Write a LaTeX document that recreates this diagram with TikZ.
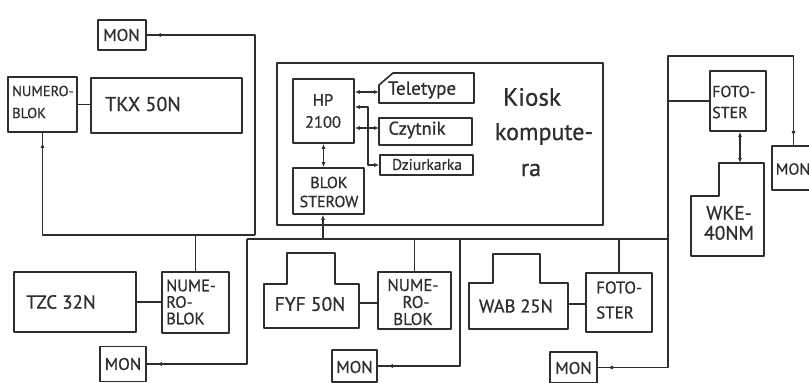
\documentclass[tikz,border=0pt]{standalone}
\usepackage{fontspec}
\setmainfont{PT Sans}[FakeBold=0.7]
\usetikzlibrary{arrows.meta,decorations.markings}
\newcommand{\fsz}[2]{\fontsize{#1}{#2}\selectfont}
\begin{document}
\begin{tikzpicture}[x=1pt,y=-1pt,
  ln/.style={line width=1.6pt, draw=black!82, line join=round},
  box/.style={ln, rectangle, inner sep=0pt},
  txt/.style={inner sep=0pt, text=black!82, align=center},
  dbl/.style={ln,{Latex[length=5pt,width=4pt]}-{Latex[length=5pt,width=4pt]}},
  upar/.style={ln,-{Latex[length=5pt,width=4pt]}},
  mk/.style={postaction={decorate,decoration={markings,mark=at position #1 with {\arrowreversed{Latex[length=5pt,width=4pt]}}}}},
]
\fill[white] (0,0) rectangle (809,383);
\useasboundingbox (0,0) rectangle (809,383);
\clip (0,0) rectangle (809,383);

% ---- boxes ----
\node[box, minimum width=48, minimum height=30] (mon1) at (122,35) {};
\node[txt, font=\fsz{17}{16}] (mon1t) at (121.5,35) {MON};
\node[box, minimum width=69, minimum height=55] (nb1) at (42.5,104.5) {};
\node[txt, align=left, anchor=west, font=\fsz{14.5}{22}] (nb1t) at (12,102) {NUMERO-\\BLOK};
\node[box, minimum width=151, minimum height=55] (tkx) at (166.5,105.5) {};
\node[txt, font=\fsz{20}{20}] (tkxt) at (143,104) {TKX 50N};

\node[box, minimum width=122, minimum height=60] (tzc) at (75,302) {};
\node[txt, font=\fsz{19}{20}] (tzct) at (61,302) {TZC 32N};
\node[box, minimum width=67, minimum height=61] (nb2) at (195.5,302.5) {};
\node[txt, align=left, anchor=west, font=\fsz{16.5}{16.5}] (nb2t) at (166,302) {NUME-\\RO-\\BLOK};
\node[box, minimum width=46, minimum height=35] (mon2) at (123,364) {};
\node[txt, font=\fsz{17}{16}] (mon2t) at (123,364) {MON};

\draw[ln] (264,328) -- (264,284) -- (287,284) -- (287,253) -- (335,253) -- (335,284) -- (359,284) -- (359,328) -- cycle;
\node[txt, font=\fsz{19.5}{20}] (fyf) at (310,304) {FYF 50N};
\coordinate (fyfR) at (359,303);
\node[box, minimum width=73, minimum height=57] (nb3) at (414.5,300.5) {};
\node[txt, font=\fsz{17}{17}] (nb3t) at (413,302) {NUME-\\\hspace*{6pt}RO-\\BLOK};
\node[box, minimum width=45, minimum height=32] (mon3) at (354.5,366) {};
\node[txt, font=\fsz{17}{16}] (mon3t) at (354.5,367) {MON};

\draw[ln] (469,329) -- (469,283) -- (493,283) -- (493,254) -- (540,254) -- (540,283) -- (568,283) -- (568,329) -- cycle;
\node[txt, font=\fsz{18.5}{20}] (wab) at (516,306) {WAB 25N};
\coordinate (wabR) at (568,304);
\node[box, minimum width=66, minimum height=59] (fs2) at (619,302.5) {};
\node[txt, align=left, anchor=west, font=\fsz{17}{25}] (fs2t) at (596,300) {FOTO-\\STER};
\node[box, minimum width=47, minimum height=31] (mon4) at (573.5,367.5) {};
\node[txt, font=\fsz{17}{16}] (mon4t) at (573.5,368) {MON};

% ---- kiosk ----
\node[box, minimum width=326, minimum height=162] (kiosk) at (440,144) {};
\node[box, minimum width=61, minimum height=64] (hp) at (323.5,111) {};
\node[txt, font=\fsz{16.5}{22}] (hpt) at (323,111) {HP\\2100};
\draw[ln] (379,103) -- (379,85) -- (393,73) -- (474,73) -- (474,103) -- cycle;
\node[txt, font=\fsz{19}{16}] (tele) at (422,90) {Teletype};
\coordinate (teleL) at (379,92);
\node[box, minimum width=93, minimum height=27] (czy) at (425.5,131.5) {};
\node[txt, font=\fsz{18.5}{16}] (czyt) at (417,130) {Czytnik};
\node[box, minimum width=93, minimum height=20] (dzi) at (426.5,165) {};
\node[txt, font=\fsz{15.5}{16}] (dzit) at (427,164.5) {Dziurkarka};
\node[box, minimum width=71, minimum height=46] (blok) at (328.5,191) {};
\node[txt, font=\fsz{16}{19}] (blokt) at (329,192) {BLOK\\STEROW};
\node[txt, font=\fsz{25}{22}] (k1) at (532,97) {Kiosk};
\node[txt, font=\fsz{24}{22}] (k2) at (544,134) {kompute-};
\node[txt, font=\fsz{24}{22}] (k3) at (531,170) {ra};

% ---- right group ----
\node[box, minimum width=56, minimum height=60] (fs1) at (738,101) {};
\node[txt, align=left, anchor=west, font=\fsz{16}{21}] (fs1t) at (712,102) {FOTO-\\STER};
\draw[ln] (719,163) -- (764,163) -- (764,256) -- (691,256) -- (691,196) -- (719,196) -- cycle;
\node[txt, font=\fsz{19.5}{20}] (wke) at (729,223) {WKE-\\40NM};
\coordinate (wkeT) at (740,163);
\node[box, minimum width=43, minimum height=44] (mon5) at (793.5,168) {};
\node[txt, font=\fsz{16}{16}] (mon5t) at (793,169) {MON};

% ---- connectors ----
\coordinate (j1) at (255,235);
\coordinate (b1) at (247,239);
\coordinate (b2) at (668,239);
\coordinate (bs) at (323,239);
\coordinate (top) at (668,56);

\draw[ln] (nb1.east) -- (nb1.east -| tkx.west);
\draw[ln, mk=10pt] (nb1.south) -- (nb1.south |- j1) -- (j1);
\draw[ln, mk=9pt] (mon1.east) -- (mon1.east -| j1) -- (j1);
\draw[ln] (b1) -- (b2);
\draw[ln] (nb2.north) -- (nb2.north |- j1);
\draw[ln] (tzc.east) -- (tzc.east -| nb2.west);
\draw[ln, mk=10pt] (mon2.east) -- (mon2.east -| b1) -- (b1);
\draw[upar] (bs) -- (bs |- blok.south);
\draw[ln] (nb3.north) -- (nb3.north |- b1);
\draw[ln] (fyfR) -- (fyfR -| nb3.west);
\draw[ln, mk=10pt] (mon3.east) -- (460,366) -- (460,239);
\draw[ln] (fs2.north) -- (fs2.north |- b1);
\draw[ln] (wabR) -- (wabR -| fs2.west);
\draw[ln, mk=10pt] (mon4.east) -- (mon4.east -| b2) -- (b2);
\draw[ln, mk=9pt] (mon5.north) -- (mon5.north |- top) -- (top) -- (b2);
\draw[ln] (fs1.west) -- (fs1.west -| top);
\draw[dbl] (fs1.south -| wkeT) -- (wkeT);

% kiosk internal
\coordinate (cz) at (379,128);
\coordinate (d1) at (368,107);
\coordinate (d2) at (368,165);
\draw[dbl] (teleL -| hp.east) -- (teleL);
\draw[dbl] (cz -| hp.east) -- (cz);
\draw[dbl] (d1 -| hp.east) -- (d1) -- (d2) -- (dzi.west);
\draw[dbl] (hp.south) -- (hp.south |- blok.north);
\end{tikzpicture}
\end{document}
